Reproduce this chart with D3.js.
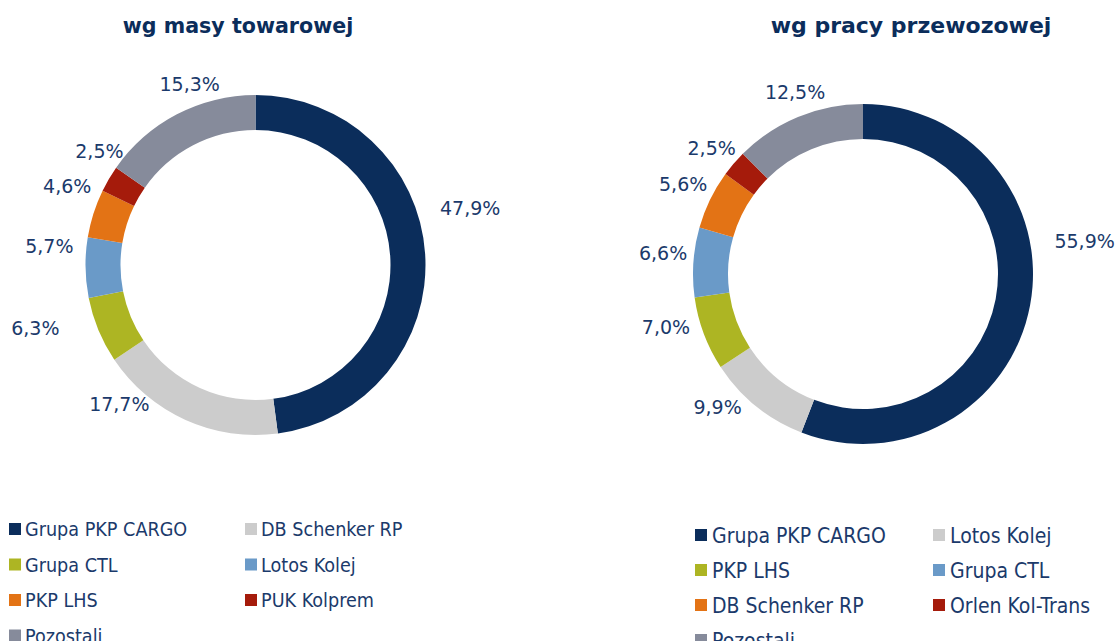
<!DOCTYPE html>
<html>
<head>
<meta charset="utf-8">
<script src="https://cdn.jsdelivr.net/npm/d3@7"></script>
<style>
  body { margin: 0; background: #fff; }
  svg { display: block; }
</style>
</head>
<body>
<svg id="chart" width="1115" height="641"></svg>
<script>
// wg masy towarowej
const massNames = ["Grupa PKP CARGO", "DB Schenker RP", "Grupa CTL", "Lotos Kolej", "PKP LHS", "PUK Kolprem", "Pozostali"];
const massValues = [47.9, 17.7, 6.3, 5.7, 4.6, 2.5, 15.3];

// wg pracy przewozowej
const workNames = ["Grupa PKP CARGO", "Lotos Kolej", "PKP LHS", "Grupa CTL", "DB Schenker RP", "Orlen Kol-Trans", "Pozostali"];
const workValues = [55.9, 9.9, 7.0, 6.6, 5.6, 2.5, 12.5];

const sliceColors = ["#0b2d5b", "#cccccc", "#adb523", "#6a9ac8", "#e37315", "#a51b0b", "#868b9b"];

// label placement (angle nudge in degrees, distance from centre) like the hand-moved Excel labels
const massLabelNudge = [[-11, 222], [20, 195], [6.5, 229], [6, 207], [5, 204], [5.6, 193], [7.5, 192]];
const workLabelNudge = [[-19, 224], [8.5, 197], [5.5, 204], [2, 201], [0.6, 201], [-0.7, 197], [2, 194]];

const textColor = "#1b3a6b";
const condensed = "'DejaVu Sans Condensed', 'DejaVu Sans', sans-serif";
const wide = "'DejaVu Sans', sans-serif";

const svg = d3.select("#chart");
const fmt = v => d3.format(".1f")(v).replace(".", ",") + "%";

function donut(cx, cy, title, titleX, titleSize, names, values, nudge, legend) {
  svg.append("text").text(title)
    .attr("x", titleX).attr("y", 33)
    .attr("text-anchor", "middle")
    .attr("font-family", wide).attr("font-weight", "bold").attr("font-size", titleSize)
    .attr("fill", "#0b2d5b");

  const pie = d3.pie().sort(null).value(d => d)(values);
  const arcMkr = d3.arc().innerRadius(135).outerRadius(170);
  const g = svg.append("g").attr("transform", `translate(${cx},${cy})`);

  g.selectAll("path").data(pie).enter().append("path")
    .attr("d", arcMkr)
    .attr("fill", (d, i) => sliceColors[i]);

  g.selectAll("text").data(pie).enter().append("text")
    .text(d => fmt(d.data))
    .attr("x", (d, i) => {
      const a = (d.startAngle + d.endAngle) / 2 + nudge[i][0] * Math.PI / 180;
      return Math.sin(a) * nudge[i][1];
    })
    .attr("y", (d, i) => {
      const a = (d.startAngle + d.endAngle) / 2 + nudge[i][0] * Math.PI / 180;
      return -Math.cos(a) * nudge[i][1];
    })
    .attr("dy", "0.35em")
    .attr("text-anchor", "middle")
    .attr("font-family", wide).attr("font-size", 19)
    .attr("fill", textColor);

  const lg = svg.append("g").attr("transform", `translate(${legend.x},${legend.y})`);
  const items = lg.selectAll("g").data(names).enter().append("g")
    .attr("transform", (d, i) => `translate(${(i % 2) * legend.colW},${Math.floor(i / 2) * legend.rowH})`);
  items.append("rect")
    .attr("x", 0).attr("y", -6).attr("width", 12).attr("height", 12)
    .attr("fill", (d, i) => sliceColors[i]);
  items.append("text").text(d => d)
    .attr("x", legend.tx).attr("dy", "0.36em")
    .attr("font-family", condensed).attr("font-size", legend.size)
    .attr("fill", textColor);
}

donut(255.5, 265, "wg masy towarowej", 238, 20.6, massNames, massValues, massLabelNudge,
  {x: 9, y: 529, colW: 236, rowH: 35.5, tx: 16, size: 19.6});
donut(863, 274, "wg pracy przewozowej", 911, 22, workNames, workValues, workLabelNudge,
  {x: 695, y: 535, colW: 238, rowH: 35, tx: 17, size: 21});
</script>
</body>
</html>
